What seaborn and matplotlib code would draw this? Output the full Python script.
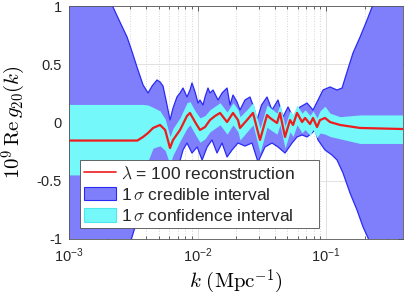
import numpy as np
import pandas as pd
import matplotlib
matplotlib.use("Agg")
import matplotlib.pyplot as plt
import seaborn as sns
from matplotlib.lines import Line2D
from matplotlib.patches import Patch
from matplotlib.ticker import FixedLocator, FuncFormatter, LogLocator, NullFormatter

# ---------------- data ----------------
# reconstruction and 1-sigma confidence interval share one k grid
k_rec = [0.00100, 0.00340, 0.00377, 0.00412, 0.00451, 0.00511, 0.00560, 0.00611, 0.00645,
         0.00731, 0.00828, 0.00874, 0.00957, 0.01045, 0.01144, 0.01250, 0.01369, 0.01497,
         0.01698, 0.01889, 0.02065, 0.02141, 0.02427, 0.02703, 0.03064, 0.03474, 0.03665,
         0.04157, 0.04385, 0.04797, 0.05248, 0.05540, 0.05950, 0.06510, 0.06870, 0.07510,
         0.07920, 0.08510, 0.08980, 0.09820, 0.1074, 0.1285, 0.1841, 0.3972]
rec = [-0.155, -0.155, -0.124, -0.090, -0.047, -0.021, -0.064, -0.219, -0.150,
       -0.064, 0.056, 0.082, 0.004, -0.064, -0.039, 0.021, 0.056, 0.082,
       0.004, 0.082, 0.021, -0.047, 0.021, 0.082, -0.150, 0.064, 0.039,
       -0.004, 0.082, -0.124, 0.021, -0.021, 0.082, 0.004, 0.039, -0.013,
       0.039, -0.039, 0.021, 0.039, 0.004, -0.021, -0.047, -0.056]
conf_hi = [0.155, 0.155, 0.155, 0.15, 0.13, 0.10, 0.03, -0.12, -0.05,
           0.04, 0.17, 0.18, 0.10, 0.04, 0.06, 0.11, 0.14, 0.17,
           0.09, 0.17, 0.11, 0.05, 0.11, 0.17, -0.05, 0.15, 0.13,
           0.08, 0.16, -0.03, 0.10, 0.07, 0.15, 0.08, 0.11, 0.06,
           0.10, 0.04, 0.10, 0.14, 0.08, 0.05, 0.065, 0.065]
conf_lo = [-0.45, -0.45, -0.42, -0.33, -0.22, -0.20, -0.24, -0.36, -0.28,
           -0.16, -0.05, -0.02, -0.10, -0.17, -0.14, -0.08, -0.05, -0.02,
           -0.10, -0.02, -0.08, -0.15, -0.08, -0.02, -0.26, -0.04, -0.06,
           -0.10, -0.02, -0.22, -0.08, -0.12, -0.02, -0.09, -0.06, -0.11,
           -0.06, -0.13, -0.09, -0.10, -0.12, -0.14, -0.18, -0.18]

# upper edge of the 1-sigma credible interval
k_cred_hi = [0.00100, 0.00194, 0.00220, 0.00249, 0.00283, 0.00310, 0.00338, 0.00377, 0.00412,
             0.00443, 0.00484, 0.00511, 0.00539, 0.00579, 0.00611, 0.00645, 0.00692, 0.00731,
             0.00771, 0.00828, 0.00874, 0.00906, 0.00957, 0.01009, 0.01045, 0.01103, 0.01144,
             0.01207, 0.01250, 0.01321, 0.01445, 0.01552, 0.01637, 0.01698, 0.01791, 0.01889,
             0.02030, 0.02141, 0.02341, 0.02561, 0.02750, 0.02904, 0.03150, 0.03474, 0.03800,
             0.04230, 0.04627, 0.05062, 0.05540, 0.06280, 0.07120, 0.07920, 0.08670, 0.09480,
             0.1074, 0.1218, 0.1333, 0.1456, 0.1622, 0.1841, 0.2086, 0.2281, 0.2630, 0.3972]
cred_hi = [1.5, 1.5, 0.991, 0.863, 0.734, 0.605, 0.476, 0.322, 0.253,
           0.313, 0.365, 0.348, 0.313, 0.150, 0.021, 0.124, 0.219, 0.253,
           0.296, 0.219, 0.279, 0.339, 0.262, 0.167, 0.193, 0.150, 0.219,
           0.296, 0.253, 0.279, 0.193, 0.253, 0.279, 0.296, 0.150, 0.236,
           0.176, 0.107, 0.193, 0.219, 0.124, 0.021, 0.150, 0.219, 0.107,
           0.193, 0.047, 0.133, 0.047, 0.133, 0.167, 0.107, 0.193, 0.279,
           0.305, 0.279, 0.296, 0.433, 0.597, 0.734, 0.880, 0.991, 1.18, 1.5]

# lower edge of the 1-sigma credible interval
k_cred_lo = [0.00100, 0.00265, 0.00306, 0.00330, 0.00370, 0.00427, 0.00511, 0.00611, 0.00705,
             0.00771, 0.00828, 0.00906, 0.00994, 0.01086, 0.01188, 0.01297, 0.01419, 0.01552,
             0.01698, 0.01856, 0.02065, 0.02341, 0.02655, 0.02957, 0.03351, 0.03800, 0.04230,
             0.04797, 0.05440, 0.05950, 0.06510, 0.07120, 0.07780, 0.08210, 0.08670, 0.09820,
             0.1113, 0.1218, 0.1355, 0.1537, 0.1742, 0.1942, 0.2124, 0.2420, 0.3972]
cred_lo = [-1.5, -1.5, -1.0, -0.88, -0.71, -0.54, -0.45, -0.45, -0.39,
           -0.236, -0.176, -0.262, -0.210, -0.322, -0.210, -0.150, -0.262, -0.176,
           -0.296, -0.236, -0.176, -0.202, -0.176, -0.339, -0.210, -0.176, -0.210,
           -0.262, -0.176, -0.124, -0.107, -0.124, -0.090, -0.064, -0.150, -0.236,
           -0.279, -0.322, -0.433, -0.605, -0.751, -0.897, -0.991, -1.2, -1.5]

y_ticks = [-1, -0.5, 0, 0.5, 1]
y_tick_labels = ["-1", "-0.5", "0", "0.5", "1"]
x_ticks = [1e-3, 1e-2, 1e-1]
x_tick_labels = [r"$\mathregular{10^{-3}}$", r"$\mathregular{10^{-2}}$", r"$\mathregular{10^{-1}}$"]
legend_labels = [r"$\lambda$ = 100 reconstruction     ",
                 r"1$\,\sigma$ credible interval",
                 r"1$\,\sigma$ confidence interval"]

# ---------------- styling ----------------
sns.set_theme(style="white")
plt.rcParams["font.family"] = ["Liberation Sans", "DejaVu Sans"]
plt.rcParams["mathtext.fontset"] = "cm"
plt.rcParams["axes.unicode_minus"] = False

BLUE_FILL = "#7f7ffb"
BLUE_EDGE = "#2a2af5"
CYAN = "#74f8fa"
RED = "#ee1c1c"

fig = plt.figure(figsize=(4.05, 2.97), dpi=100)
ax = fig.add_axes([69 / 405, 58 / 297, 334 / 405, 233 / 297])
ax.set_xscale("log")

# credible interval polygon
poly_x = np.concatenate([np.array(k_cred_hi), np.array(k_cred_lo)[::-1]])
poly_y = np.concatenate([np.array(cred_hi), np.array(cred_lo)[::-1]])
ax.fill(poly_x, poly_y, color=BLUE_FILL, lw=0, zorder=2)
sns.lineplot(x=k_cred_hi, y=cred_hi, ax=ax, color=BLUE_EDGE, lw=0.9, sort=False, zorder=3)
sns.lineplot(x=k_cred_lo, y=cred_lo, ax=ax, color=BLUE_EDGE, lw=0.9, sort=False, zorder=3)

# confidence interval
ax.fill_between(k_rec, conf_lo, conf_hi, color=CYAN, lw=0, zorder=4)

# reconstruction
df = pd.DataFrame({"k": k_rec, "g": rec})
sns.lineplot(data=df, x="k", y="g", ax=ax, color=RED, lw=1.6, sort=False, zorder=5)

ax.set_xlim(1e-3, 0.3972)
ax.set_ylim(-1, 1)

ax.xaxis.set_major_locator(FixedLocator(x_ticks))
ax.xaxis.set_major_formatter(FuncFormatter(lambda v, p: x_tick_labels[x_ticks.index(min(x_ticks, key=lambda t: abs(np.log10(t) - np.log10(v))))]))
ax.xaxis.set_minor_locator(LogLocator(base=10, subs=np.arange(2, 10)))
ax.xaxis.set_minor_formatter(NullFormatter())
ax.set_yticks(y_ticks)
ax.set_yticklabels(y_tick_labels)

ax.tick_params(axis="both", which="major", direction="in", length=3.5, width=0.5,
               colors="#262626", labelsize=10.5, top=True, right=True, pad=5)
ax.tick_params(axis="x", which="minor", direction="in", length=2, width=0.5,
               color="#262626", top=True, bottom=True)
for lab in ax.get_xticklabels() + ax.get_yticklabels():
    lab.set_color("#262626")

ax.set_axisbelow(True)
ax.grid(True, which="major", axis="both", color="#dcdcdc", lw=0.6, ls="-", zorder=0)
ax.grid(True, which="minor", axis="x", color="#c8c8c8", lw=0.6, ls=(0, (1, 2)), zorder=0)

for s in ax.spines.values():
    s.set_color("#555555")
    s.set_linewidth(0.6)
    s.set_zorder(6)

ax.set_xlabel(r"$k\ (\mathrm{Mpc}^{-1})$", fontsize=15, color="black", labelpad=2)
ax.set_ylabel(r"$10^9\,\mathrm{Re}\,g_{20}(k)$", fontsize=15, color="black", labelpad=6)

handles = [Line2D([0], [0], color=RED, lw=1.2),
           Patch(facecolor=BLUE_FILL, edgecolor=BLUE_EDGE, lw=0.8),
           Patch(facecolor=CYAN, edgecolor="#4de8ee", lw=0.8)]
leg = ax.legend(handles, legend_labels, loc="lower left", bbox_to_anchor=(0.033, 0.047),
                fontsize=12.5, frameon=True, fancybox=False, framealpha=1,
                edgecolor="#4d4d4d", handlelength=1.85, handleheight=0.85,
                handletextpad=0.25, labelspacing=0.3, borderpad=0.25, borderaxespad=0)
leg.get_frame().set_linewidth(0.6)
leg.set_zorder(10)

fig.savefig("out.png", dpi=100)
